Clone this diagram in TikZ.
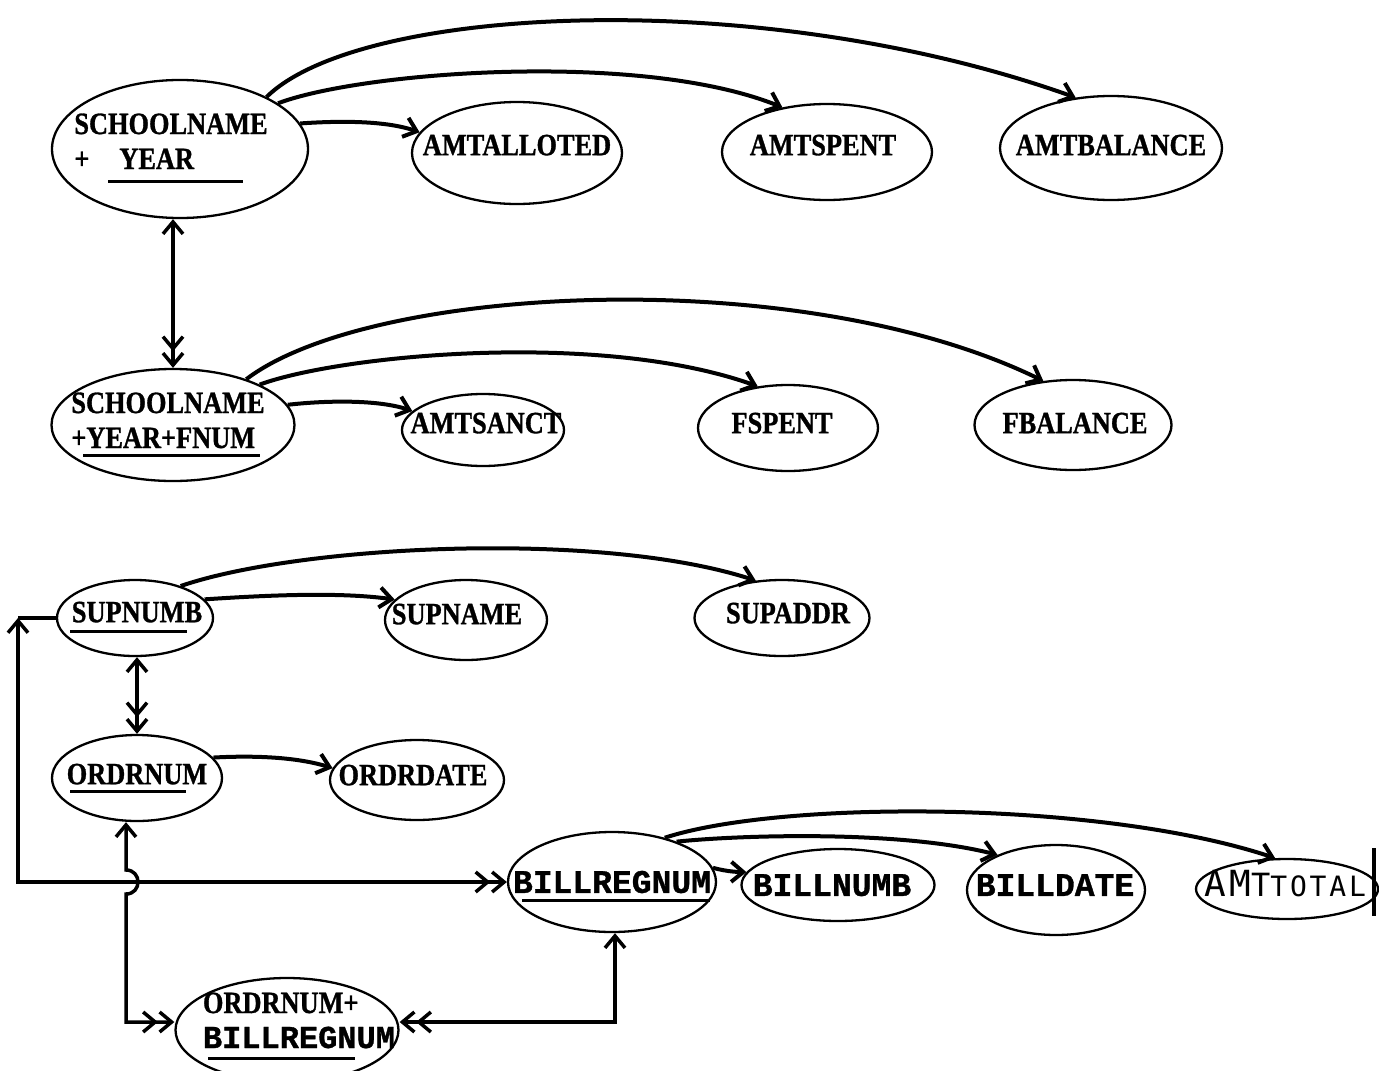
\documentclass[tikz,border=0pt]{standalone}
\usepackage{fontspec}
\newfontfamily\serifhw[FakeStretch=0.85,FakeBold=1]{Liberation Serif}
\newfontfamily\monohw[FakeBold=1]{Liberation Mono}
\newfontfamily\amtfont[LetterSpace=10]{DejaVu Sans Mono}
\usetikzlibrary{shapes.geometric,arrows.meta}
% text placed at an offset inside a zero-size box, so the ellipse size is set only by its minimum size
\newcommand\tx[3]{\makebox[0pt]{\kern#1pt\raisebox{\dimexpr#2pt-0.33em\relax}[0pt][0pt]{#3}\kern-#1pt}}
\newcommand\tl[3]{\makebox[0pt]{\kern#1pt\raisebox{\dimexpr#2pt-0.25em\relax}[0pt][0pt]{\begin{tabular}{@{}l@{}}#3\end{tabular}}\kern-#1pt}}
\begin{document}
\begin{tikzpicture}[x=1pt,y=-1pt,
  >={Straight Barb[length=12pt,width=20pt]},
  ent/.style={ellipse, draw, line width=2.3pt, inner sep=0pt,
    font=\serifhw\bfseries\fontsize{31}{35}\selectfont},
  tent/.style={ent, font=\monohw\bfseries\fontsize{33}{36}\selectfont},
  rel/.style={line width=4pt, ->},
  vrel/.style={line width=3.5pt},
  ul/.style={line width=3pt}]
\clip (0,0) rectangle (1379,1071);
\fill[white] (0,0) rectangle (1379,1071);

% row 1
\node[ent, minimum width=256pt, minimum height=138pt] (n1) at (180,149) {\tl{-9}{6}{SCHOOLNAME\\+\hspace{30pt}YEAR}};
\node[ent, minimum width=210pt, minimum height=102pt] (aa) at (517,153) {\tx{0}{8}{AMTALLOTED}};
\node[ent, minimum width=210pt, minimum height=96pt] (as) at (827,152) {\tx{-4}{7}{AMTSPENT}};
\node[ent, minimum width=222pt, minimum height=104pt] (ab) at (1111,148) {\tx{0}{3}{AMTBALANCE}};
% row 2
\node[ent, minimum width=243pt, minimum height=112pt] (n2) at (173,425) {\tl{-5}{3}{SCHOOLNAME\\+YEAR+FNUM}};
\node[ent, minimum width=162pt, minimum height=72pt] (sa) at (483,430) {\tx{3}{7}{AMTSANCT}};
\node[ent, minimum width=180pt, minimum height=86pt] (fs) at (788,428) {\tx{-6}{5}{FSPENT}};
\node[ent, minimum width=197pt, minimum height=90pt] (fb) at (1073,425) {\tx{2}{2}{FBALANCE}};
% row 3
\node[ent, minimum width=156pt, minimum height=76pt] (sn) at (135,618) {\tx{2}{6}{SUPNUMB}};
\node[ent, minimum width=162pt, minimum height=80pt] (sm) at (466,620) {\tx{-9}{6}{SUPNAME}};
\node[ent, minimum width=175pt, minimum height=76pt] (sd) at (782,618) {\tx{6}{5}{SUPADDR}};
\node[ent, minimum width=170pt, minimum height=86pt] (on) at (137,778) {\tx{0}{4}{ORDRNUM}};
\node[ent, minimum width=174pt, minimum height=80pt] (od) at (417,780) {\tx{-4}{5}{ORDRDATE}};
% bottom
\node[tent, minimum width=208pt, minimum height=100pt] (br) at (612,882) {\tx{0}{0}{BILLREGNUM}};
\node[tent, minimum width=193pt, minimum height=72pt] (bn) at (838,885) {\tx{-6}{0}{BILLNUMB}};
\node[tent, minimum width=178pt, minimum height=90pt] (bd) at (1056,890) {\tx{-1}{5}{BILLDATE}};
\node[ent, minimum width=182pt, minimum height=60pt, font=\amtfont\fontsize{32}{32}\selectfont] (at) at (1287,889)
  {\tx{-2}{3}{{\fontsize{36}{36}\selectfont AM}{\fontsize{32}{32}\selectfont T}{\fontsize{28}{28}\selectfont TOTAL}}};
\node[ent, minimum width=223pt, minimum height=104pt] (ob) at (287,1030)
  {\tl{12}{8}{ORDRNUM+\\{\monohw\bfseries\fontsize{32}{35}\selectfont BILLREGNUM}}};

% page-edge bar at AMTTOTAL
\draw[line width=4pt] (1374,848) -- (1374,916);

% underlines
\draw[ul] ([shift={(-72,32)}]n1.center) -- ([shift={(63,32)}]n1.center);
\draw[ul] ([shift={(-90,30)}]n2.center) -- ([shift={(87,30)}]n2.center);
\draw[ul] ([shift={(-65,13)}]sn.center) -- ([shift={(52,13)}]sn.center);
\draw[ul] ([shift={(-67,13)}]on.center) -- ([shift={(49,13)}]on.center);
\draw[ul] ([shift={(-90,18)}]br.center) -- ([shift={(98,18)}]br.center);
\draw[ul] ([shift={(-79,28)}]ob.center) -- ([shift={(68,28)}]ob.center);

% row 1 connectors
\draw[rel] (n1.12) .. controls (350,120) and (390,122) .. (aa.168);
\draw[rel] (n1.25) .. controls (360,72) and (640,50) .. (as.135);
\draw[rel] (n1.31) .. controls (360,5) and (760,-15) .. (ab.125);
% row 2 connectors
\draw[rel] (n2.10) .. controls (330,400) and (380,400) .. (sa.165);
\draw[rel] (n2.25) .. controls (340,355) and (600,330) .. (fs.126);
\draw[rel] (n2.32) .. controls (370,285) and (800,262) .. (fb.124);
% row 3 connectors
\draw[rel] (sn.15) .. controls (270,595) and (340,592) .. (sm.164);
\draw[rel] (sn.35) .. controls (300,545) and (600,530) .. (sd.125);
\draw[rel] (on.15) .. controls (260,755) and (300,758) .. (od.172);
% bottom connectors
\draw[rel] (br.8) .. controls (728,872) and (740,872) .. (bn.172);
\draw[rel] (br.32) .. controls (740,835) and (900,830) .. (bd.149);
\draw[rel] (br.40) .. controls (780,800) and (1100,800) .. (at.111);

% vertical links
\draw[vrel, <->>] (n2.north |- n1.south) -- (n2.north);
\draw[vrel, <->>] (on.north |- sn.south) -- (on.north);

% left loop SUPNUMB -> BILLREGNUM
\coordinate (lc) at (18,618);
\draw[vrel] (sn.west) -- (lc);
\draw[vrel, <->>] (lc) -- (lc |- br.west) -- (br.west);

% ORDRNUM -> ORDRNUM+BILLREGNUM with hop
\coordinate (oc) at (126,1022);
\draw[vrel, <->>] (oc |- on.south) -- (126,870)
  .. controls (142,870) and (142,894) .. (126,894) -- (oc) -- (ob.west |- oc);

% BILLREGNUM -> ORDRNUM+BILLREGNUM
\coordinate (rc) at (615,1022);
\draw[vrel, <<->] (ob.east |- rc) -- (rc) -- (rc |- br.south);
\end{tikzpicture}
\end{document}
